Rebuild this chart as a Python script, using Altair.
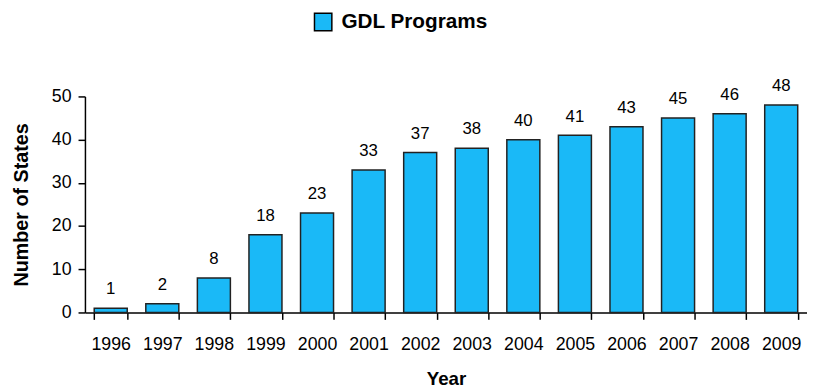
import altair as alt
import pandas as pd

years = ["1996", "1997", "1998", "1999", "2000", "2001", "2002", "2003", "2004", "2005", "2006", "2007", "2008", "2009"]
states = [1, 2, 8, 18, 23, 33, 37, 38, 40, 41, 43, 45, 46, 48]
series = ["GDL Programs"] * len(years)

df = pd.DataFrame({"Year": years, "States": states, "Series": series})

FONT = "Liberation Sans"

base = alt.Chart(df).encode(
    x=alt.X("Year:N", sort=years, scale=alt.Scale(paddingInner=0.36, paddingOuter=0.18),
            axis=alt.Axis(title="Year", labelAngle=0, labelFontSize=18, labelFont=FONT,
                          labelColor="#000", labelPadding=17, tickBand="extent", tickSize=7,
                          tickColor="#000", domainColor="#000", titleFont=FONT, titleFontSize=19,
                          titleFontWeight="bold", titleColor="#000", titlePadding=16)),
)

bars = base.mark_bar(stroke="#222", strokeWidth=1.5).encode(
    y=alt.Y("States:Q", scale=alt.Scale(domain=[0, 50]),
            axis=alt.Axis(title="Number of States", values=[0, 10, 20, 30, 40, 50], grid=False,
                          labelFontSize=18, labelFont=FONT, labelColor="#000", labelPadding=7,
                          tickSize=7, tickColor="#000", domainColor="#000", titleFont=FONT,
                          titleFontSize=20, titleFontWeight="bold", titleColor="#000",
                          titlePadding=20)),
    color=alt.Color("Series:N", scale=alt.Scale(range=["#1AB9F7"]),
                    legend=alt.Legend(title=None, orient="none", legendX=231, legendY=-86,
                                      symbolType="square", symbolSize=310, symbolStrokeColor="#000",
                                      symbolStrokeWidth=1.5, labelFont=FONT, labelFontSize=21,
                                      labelFontWeight="bold", labelColor="#000", labelOffset=8)),
)

labels = base.mark_text(dy=-19, fontSize=17, font=FONT, color="#000").encode(
    y=alt.Y("States:Q"),
    text=alt.Text("States:Q"),
)

chart = (bars + labels).properties(
    width=732, height=219,
    autosize=alt.AutoSizeParams(type="none"),
    padding={"left": 78, "top": 87, "right": 0, "bottom": 80},
).configure_view(stroke=None).configure_axis(domainWidth=1.5, tickWidth=1.5)

chart.save("out.html", embed_options={"renderer": "svg", "actions": False})
